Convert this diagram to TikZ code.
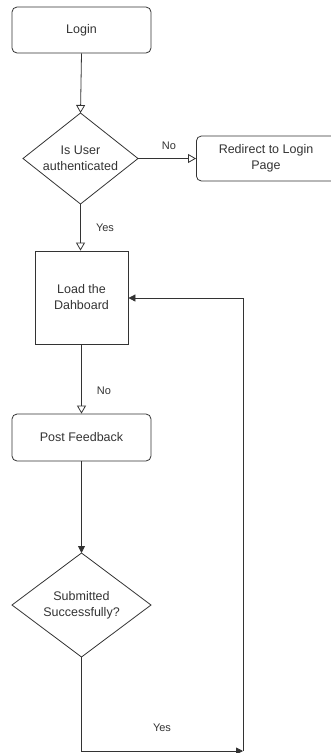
\documentclass[tikz,border=0pt]{standalone}
\usepackage{fontspec}
\setmainfont{Liberation Sans}
\usetikzlibrary{arrows.meta,shapes.geometric}
\definecolor{ln}{HTML}{333333}
\definecolor{tx}{HTML}{333333}
\begin{document}
\begin{tikzpicture}[x=1pt,y=-1pt,
  every node/.style={font=\fontsize{12.5}{16}\selectfont, text=tx, align=center},
  rbox/.style={draw=ln, line width=0.8pt, rounded corners=5pt, inner sep=0pt},
  sbox/.style={draw=ln, line width=0.8pt, inner sep=0pt},
  dbox/.style={draw=ln, line width=0.8pt},
  conn/.style={draw=ln, line width=0.8pt},
  openarr/.style={-{Triangle[open,length=8pt,width=9pt]}},
  fillarr/.style={-{Triangle[length=7pt,width=7pt]}},
  lbl/.style={font=\fontsize{11}{13}\selectfont}
]
\clip (0,0) rectangle (331,753);
\useasboundingbox (0,0) rectangle (331,753);
\node[rbox, minimum width=150pt, minimum height=45pt, anchor=west] (redir) at (196,158.5) {};
\node[rbox, minimum width=139pt, minimum height=46pt] (login) at (81.5,30) {Login};
\draw[dbox] (80.5,113) coordinate (d1t) -- (138,158.5) coordinate (d1r) -- (80.5,204) coordinate (d1b) -- (23,158.5) coordinate (d1l) -- cycle;
\node (d1txt) at (80.5,158.5) {Is User\\authenticated};
\node (redirtxt) at (266,158.5) {Redirect to Login\\Page};
\node[sbox, minimum width=93pt, minimum height=93pt] (load) at (81.5,297.5) {Load the\\Dahboard};
\node[rbox, minimum width=139pt, minimum height=47pt] (post) at (81.5,437.5) {Post Feedback};
\draw[dbox] (81.5,553) coordinate (d2t) -- (151,605) coordinate (d2r) -- (81.5,657) coordinate (d2b) -- (12,605) coordinate (d2l) -- cycle;
\node (d2txt) at (81.5,605) {Submitted\\Successfully?};
\coordinate (c1) at (81.5,751);
\coordinate (c2) at (243,751);
\coordinate (c3) at (243,298);
\draw[conn, openarr] (login.south) -- (d1t);
\draw[conn, openarr] (d1r) -- (redir.west);
\draw[conn, openarr] (d1b) -- (load.north -| d1b);
\draw[conn, openarr] (load.south) -- (post.north);
\draw[conn, fillarr] (post.south) -- (d2t);
\draw[conn, fillarr] (d2b) -- (c1) -- (c2);
\draw[conn, fillarr] (c2) -- (c3) -- (load.east |- c3);
\node[lbl] (no1) at (169,146) {No};
\node[lbl] (yes1) at (105,228) {Yes};
\node[lbl] (no2) at (104,391) {No};
\node[lbl] (yes2) at (162,728) {Yes};
\end{tikzpicture}
\end{document}
